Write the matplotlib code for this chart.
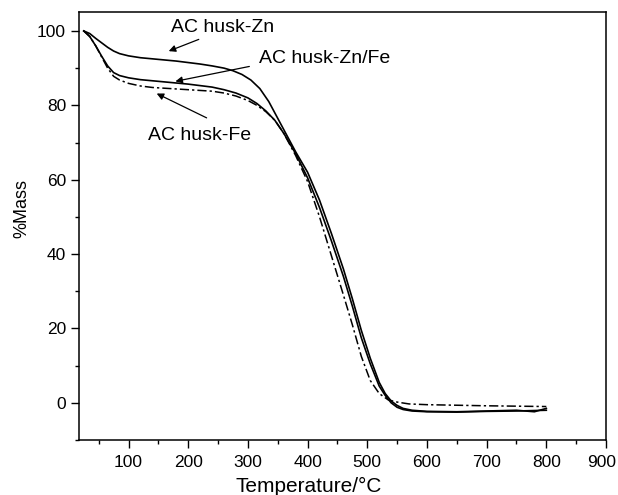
import numpy as np
import matplotlib
matplotlib.use("Agg")
import matplotlib.pyplot as plt
import matplotlib.transforms as mtransforms

## donnees
# AC husk-Zn (trait plein, au-dessus au debut)
t_zn = [25, 35, 45, 55, 65, 75, 85, 100, 120, 140, 160, 180, 200, 220, 240,
        260, 275, 290, 305, 320, 335, 350, 365, 380, 400, 420, 440, 460,
        475, 490, 505, 520, 530, 540, 550, 560, 575, 600, 650, 700, 750,
        780, 800]
m_zn = [100, 99.3, 98, 96.8, 95.6, 94.6, 93.9, 93.3, 92.8, 92.5, 92.2, 91.9,
        91.5, 91.1, 90.6, 90, 89.3, 88.3, 86.8, 84.5, 81, 76.5, 72, 67.5,
        62, 54.5, 45.5, 36, 28, 19.5, 12, 5.5, 2.5, 0.5, -0.7, -1.5, -2,
        -2.3, -2.4, -2.2, -2, -2.4, -1.5]

# AC husk-Zn/Fe (trait plein)
t_znfe = [25, 35, 45, 55, 65, 75, 85, 100, 120, 140, 160, 180, 200, 220,
          240, 260, 280, 300, 315, 330, 345, 360, 380, 400, 420, 440, 460,
          475, 490, 505, 520, 530, 540, 550, 560, 575, 600, 650, 700, 750,
          800]
m_znfe = [100, 98.5, 96, 93.2, 90.6, 88.8, 88, 87.4, 86.9, 86.6, 86.3, 86,
          85.7, 85.3, 84.9, 84.2, 83.3, 82, 80.5, 78.5, 76, 72.5, 67, 60.5,
          52.5, 43.5, 34, 26, 17.5, 10.5, 4.5, 2, 0, -1.2, -1.8, -2.2, -2.4,
          -2.5, -2.3, -2.2, -2]

# AC husk-Fe (tiret-point)
t_fe = [25, 35, 45, 55, 65, 75, 85, 100, 120, 140, 160, 180, 200, 220, 240,
        260, 280, 300, 315, 330, 345, 360, 380, 400, 420, 440, 460, 475,
        490, 505, 520, 535, 550, 570, 600, 700, 800]
m_fe = [100, 98.5, 96, 93, 90, 87.8, 86.8, 85.9, 85.2, 84.8, 84.6, 84.4,
        84.2, 84, 83.8, 83.3, 82.5, 81.3, 80, 78.3, 76, 72.5, 66.5, 59.5,
        50, 39.5, 29, 21, 12.5, 6, 2.5, 0.8, 0.2, -0.3, -0.5, -0.8, -1]

## figure
plt.rcParams['font.family'] = ['Liberation Sans', 'DejaVu Sans']
fig = plt.figure(figsize=(6.18, 4.95), dpi=100)
ax = fig.add_axes([0.1283, 0.1111, 0.8523, 0.8647])

ax.plot(t_zn, m_zn, color='black', lw=1.2, ls='-')
ax.plot(t_znfe, m_znfe, color='black', lw=1.2, ls='-')
ax.plot(t_fe, m_fe, color='black', lw=1.1, ls=(0, (6, 2, 1.5, 2)))

# les etiquettes avec fleches
arrow = dict(arrowstyle='-|>', color='black', lw=0.9, mutation_scale=10)
ax.annotate('', xy=(163, 94.3), xytext=(222, 98), arrowprops=arrow)
ax.text(171, 101, 'AC husk-Zn', fontsize=14, va='center', ha='left')
ax.annotate('', xy=(174, 86.3), xytext=(307, 90.6), arrowprops=arrow)
ax.text(318, 92.5, 'AC husk-Zn/Fe', fontsize=14, va='center', ha='left')
ax.annotate('', xy=(143, 83.5), xytext=(235, 76.3), arrowprops=arrow)
ax.text(132, 71.8, 'AC husk-Fe', fontsize=14, va='center', ha='left')

ax.set_xlim(17.5, 900)
ax.set_ylim(-10, 105.1)
ax.set_xticks(np.arange(100, 901, 100))
ax.set_xticks(np.arange(50, 901, 50), minor=True)
ax.set_yticks(np.arange(0, 101, 20))
ax.set_yticks(np.arange(-10, 101, 10), minor=True)
ax.tick_params(which='major', direction='out', length=6, width=1, labelsize=12.5)
ax.tick_params(axis='x', which='major', pad=5)
ax.tick_params(axis='y', which='major', pad=3.5)
ax.tick_params(which='minor', direction='out', length=3, width=1)
for s in ax.spines.values():
    s.set_linewidth(1.1)

# le dernier "900" un peu vers la gauche, comme sur l'original
fig.canvas.draw()
lab = ax.get_xticklabels()[-1]
lab.set_transform(lab.get_transform() +
                  mtransforms.ScaledTranslation(-4/100, 0, fig.dpi_scale_trans))

ax.set_xlabel('Temperature/\u00b0C', fontsize=15)
ax.xaxis.set_label_coords(0.435, -0.086)
ax.set_ylabel('%Mass', fontsize=13)
ax.yaxis.set_label_coords(-0.093, 0.542)

fig.savefig('out.png', dpi=100)
